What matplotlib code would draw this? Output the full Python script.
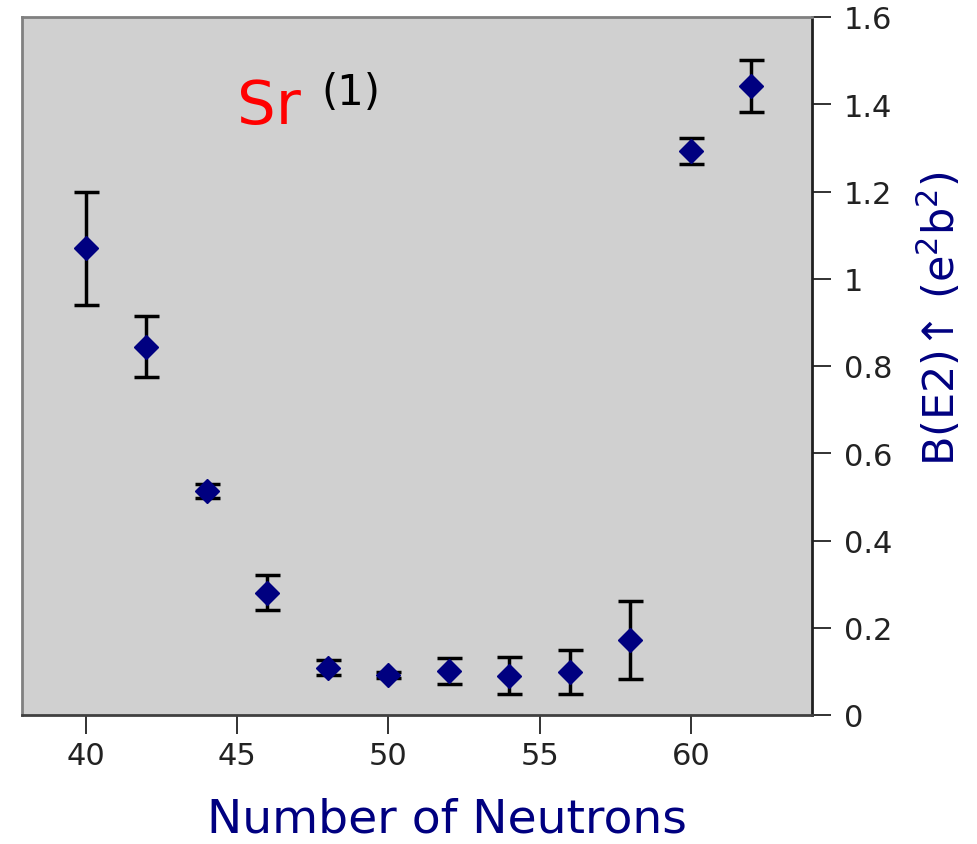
import matplotlib
matplotlib.use("Agg")
import matplotlib.pyplot as plt
from matplotlib.ticker import FuncFormatter

neutrons = [40, 42, 44, 46, 48, 50, 52, 54, 56, 58, 60, 62]
be2 = [1.07, 0.844, 0.513, 0.280, 0.108, 0.092, 0.100, 0.090, 0.098, 0.172, 1.292, 1.442]
be2_err = [0.13, 0.07, 0.016, 0.04, 0.017, 0.007, 0.03, 0.043, 0.05, 0.09, 0.03, 0.06]
x_ticks = [40, 45, 50, 55, 60]
y_ticks = [0, 0.2, 0.4, 0.6, 0.8, 1.0, 1.2, 1.4, 1.6]

fig = plt.figure(figsize=(9.78, 8.45), dpi=100)
ax = fig.add_axes([22/978, 1-716/845, 790/978, 698/845])
ax.set_facecolor('#d0d0d0')

ax.errorbar(neutrons, be2, yerr=be2_err, fmt='D', color='#000080', markersize=12,
            ecolor='black', elinewidth=2.5, capsize=9, capthick=2.5, zorder=3)

ax.set_xlim(37.9, 64.0)
ax.set_ylim(0, 1.6)
ax.set_xticks(x_ticks)
ax.set_yticks(y_ticks)
ax.yaxis.tick_right()
ax.yaxis.set_major_formatter(FuncFormatter(lambda v, p: f"{v:g}"))

ax.tick_params(axis='x', direction='out', length=14, width=1.3, pad=5, labelsize=22, colors='#222222')
ax.tick_params(axis='y', direction='out', length=14, width=1.3, pad=9, labelsize=22, colors='#222222')

for s in ['left', 'top']:
    ax.spines[s].set_color('#808080')
    ax.spines[s].set_linewidth(2.0)
ax.spines['bottom'].set_color('#404040')
ax.spines['bottom'].set_linewidth(2.0)
ax.spines['right'].set_color('#202020')
ax.spines['right'].set_linewidth(2.0)

fig.text(447/978, 2/845, 'Number of Neutrons', color='#000080', fontsize=34,
         ha='center', va='bottom')
fig.text(940/978, 1-319/845, 'B(E2)↑ (e$^2$b$^2$)', color='#000080', fontsize=31,
         rotation=90, ha='center', va='center')

fig.text(237/978, 1-124/845, 'Sr', color='red', fontsize=44, ha='left', va='baseline')
fig.text(321/978, 1-105/845, '(1)', color='black', fontsize=30, ha='left', va='baseline')

fig.savefig('out.png', dpi=100)
